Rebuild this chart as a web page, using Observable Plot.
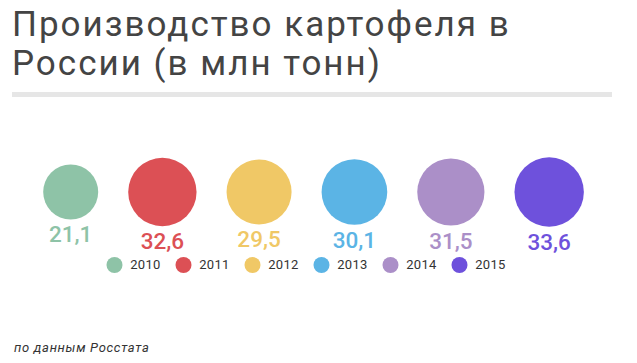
<!DOCTYPE html>
<html>
<head>
<meta charset="utf-8">
<script src="https://cdn.jsdelivr.net/npm/d3@7"></script>
<script src="https://cdn.jsdelivr.net/npm/@observablehq/plot@0.6"></script>
<style>
  html, body { margin: 0; padding: 0; background: #fff; width: 637px; height: 363px; overflow: hidden; }
  body { position: relative; font-family: Roboto, sans-serif; }
  #title { position: absolute; left: 12px; top: 4.5px; font-size: 35px; line-height: 39px; letter-spacing: 2px; color: #444; font-weight: 400; white-space: nowrap; }
  #rule { position: absolute; left: 12px; top: 92px; width: 600px; height: 5px; background: #e6e6e6; }
  #chart { position: absolute; left: 0; top: 130px; }
  #legend { position: absolute; left: 0; top: 250px; }
  #caption { position: absolute; left: 14px; top: 340.5px; font-size: 13px; line-height: 13px; letter-spacing: 0.7px; font-style: italic; color: #333; white-space: nowrap; }
</style>
</head>
<body>
<div id="title">Производство картофеля в<br>России (в млн тонн)</div>
<div id="rule"></div>
<div id="chart"></div>
<div id="legend"></div>
<div id="caption">по данным Росстата</div>
<script>
const years = ["2010", "2011", "2012", "2013", "2014", "2015"];
const values = [21.1, 32.6, 29.5, 30.1, 31.5, 33.6];
const valueLabels = ["21,1", "32,6", "29,5", "30,1", "31,5", "33,6"];
const colors = ["#8ec3a7", "#dc5055", "#f0c866", "#5bb4e5", "#ab8fc8", "#6e51dc"];

const maxR = 34.7;
const rOpts = {type: "sqrt", domain: [0, d3.max(values)], range: [0, maxR]};
const rScale = Plot.scale({r: rOpts});

// circles are packed left to right with a constant gap between their edges
const firstLeft = 42.7, gap = 30;
let cursor = firstLeft;
const data = years.map((year, i) => {
  const r = rScale.apply(values[i]);
  const cx = cursor + r;
  cursor = cx + r + gap;
  return {year, value: values[i], label: valueLabels[i], cx, r};
});

const chart = Plot.plot({
  width: 637,
  height: 130,
  margin: 0,
  style: {fontFamily: "Roboto", background: "transparent"},
  x: {type: "identity", axis: null},
  y: {domain: [-61.5, 68.5], range: [0, 130], axis: null},
  r: rOpts,
  color: {domain: years, range: colors},
  marks: [
    Plot.dot(data, {x: "cx", y: () => 0, r: "value", fill: "year"}),
    Plot.text(data, {x: "cx", y: d => d.r + 7, text: "label", fill: "year", lineAnchor: "top", fontSize: 22.5, fontWeight: 500})
  ]
});
document.getElementById("chart").appendChild(chart);

const legend = Plot.plot({
  width: 637,
  height: 29,
  margin: 0,
  style: {fontFamily: "Roboto", background: "transparent"},
  x: {type: "point", domain: years, range: [112, 460], padding: 0, axis: null},
  color: {domain: years, range: colors},
  marks: [
    Plot.dot(years, {x: d => d, r: 8, fill: d => d}),
    Plot.text(years, {x: d => d, text: d => d, dx: 15.7, textAnchor: "start", fontSize: 13, fontWeight: 400, fill: "#333", style: "letter-spacing:0.3px"})
  ]
});
legend.querySelectorAll("text").forEach(t => t.style.letterSpacing = "0.3px");
document.getElementById("legend").appendChild(legend);
</script>
</body>
</html>
